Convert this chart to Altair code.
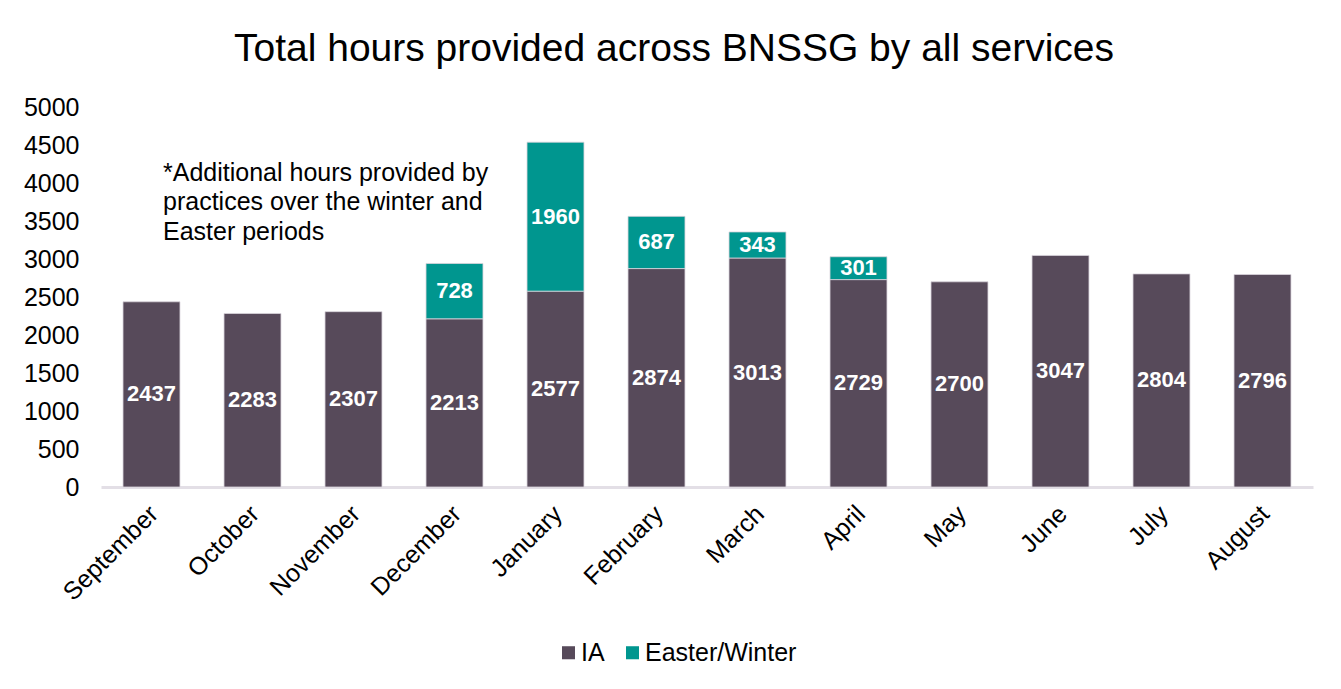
import altair as alt
import pandas as pd

months = ["September", "October", "November", "December", "January", "February",
          "March", "April", "May", "June", "July", "August"]
ia_hours = [2437, 2283, 2307, 2213, 2577, 2874, 3013, 2729, 2700, 3047, 2804, 2796]
easter_winter_hours = [0, 0, 0, 728, 1960, 687, 343, 301, 0, 0, 0, 0]
series_names = ["IA", "Easter/Winter"]
series_colors = ["#574A5A", "#00968F"]
y_ticks = list(range(0, 5001, 500))
title_text = "Total hours provided across BNSSG by all services"
note_lines = ["*Additional hours provided by", "practices over the winter and", "Easter periods"]
note_month = "September"
note_value = 4030

rows = []
for m, a, e in zip(months, ia_hours, easter_winter_hours):
    rows.append({"month": m, "series": "IA", "value": a, "order": 0})
    if e > 0:
        rows.append({"month": m, "series": "Easter/Winter", "value": e, "order": 1})
df = pd.DataFrame(rows)

FONT = "Liberation Sans"

x_scale = alt.Scale(paddingInner=0.436, paddingOuter=0.218)
x_axis = alt.Axis(title=None, labelAngle=-45, labelFontSize=25, labelColor="#000000",
                  ticks=False, domainColor="#E3DFE6", domainWidth=3, labelOffset=-6,
                  labelPadding=14, labelFont=FONT, labelOverlap=False)
y_scale = alt.Scale(domain=[0, 5000], nice=False)
y_axis = alt.Axis(title=None, values=y_ticks, format="d", grid=False, domain=False,
                  ticks=False, labelOverlap=False, labelFontSize=25,
                  labelColor="#000000", labelPadding=22, labelFont=FONT)

base = alt.Chart(df).transform_stack(
    stack="value", groupby=["month"], as_=["v0", "v1"],
    sort=[alt.SortField("order", order="ascending")]
).transform_calculate(mid="(datum.v0 + datum.v1) / 2")

bars = base.mark_bar(stroke="#D9D4DC", strokeWidth=0.8).encode(
    x=alt.X("month:N", sort=months, scale=x_scale, axis=x_axis),
    y=alt.Y("v0:Q", scale=y_scale, axis=y_axis),
    y2="v1:Q",
    color=alt.Color("series:N", scale=alt.Scale(domain=series_names, range=series_colors),
                    legend=alt.Legend(title=None, orient="none", direction="horizontal",
                                      legendX=455, legendY=533, symbolType="square",
                                      symbolSize=170, symbolStrokeWidth=0, labelFontSize=25,
                                      labelFont=FONT, labelColor="#000000", columnPadding=15,
                                      labelOffset=0)),
)

labels = base.mark_text(color="white", fontWeight="bold", fontSize=22, font=FONT,
                        baseline="middle").encode(
    x=alt.X("month:N", sort=months, scale=x_scale, axis=x_axis),
    y=alt.Y("mid:Q", scale=y_scale, axis=y_axis),
    text=alt.Text("value:Q", format="d"),
)

note = alt.Chart(pd.DataFrame({"month": [note_month], "v": [note_value],
                               "t": [note_lines]})).mark_text(
    align="left", baseline="alphabetic", fontSize=25, font=FONT, color="#000000",
    lineHeight=29.5, dx=11.5
).encode(
    x=alt.X("month:N", sort=months, scale=x_scale, axis=x_axis),
    y=alt.Y("v:Q", scale=y_scale, axis=y_axis),
    text="t",
)

chart = alt.layer(bars, labels, note).properties(
    width=1212, height=380,
    background="white",
    title=alt.TitleParams(title_text, fontSize=39, font=FONT, fontWeight="normal",
                          color="#000000", anchor="middle", dx=-33, offset=26),
    padding={"left": 93, "top": 99, "right": 12, "bottom": 180},
    autosize=alt.AutoSizeParams(type="none"),
).configure_view(strokeWidth=0, stroke="transparent")

chart.save("out.html", embed_options={"renderer": "svg", "actions": False})
